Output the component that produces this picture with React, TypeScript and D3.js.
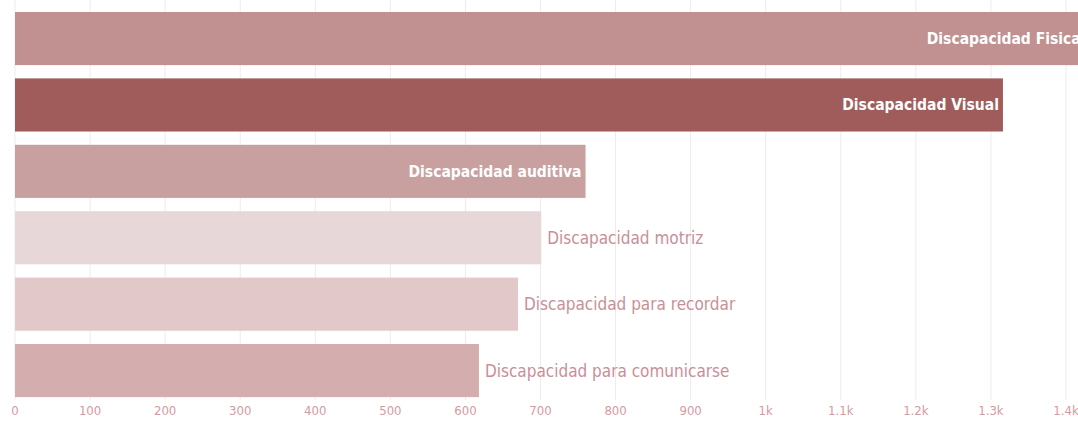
import React from "react";
import * as d3 from "d3";

const categories = [
  "Discapacidad Fisica",
  "Discapacidad Visual",
  "Discapacidad auditiva",
  "Discapacidad motriz",
  "Discapacidad para recordar",
  "Discapacidad para comunicarse",
];
const values = [1425, 1316, 760, 701, 670, 618];
const barColors = ["#c09190", "#a05c5b", "#c9a0a0", "#e8d7d8", "#e2c8c9", "#d4aeae"];
const labelInside = [true, true, true, false, false, false];
const tickValues = [0, 100, 200, 300, 400, 500, 600, 700, 800, 900, 1000, 1100, 1200, 1300, 1400];
const tickLabels = ["0", "100", "200", "300", "400", "500", "600", "700", "800", "900", "1k", "1.1k", "1.2k", "1.3k", "1.4k"];

const W = 1078;
const H = 421;
const FONT = "'DejaVu Sans Condensed', 'DejaVu Sans', sans-serif";

export default function App() {
  const x = d3.scaleLinear().domain([0, 1400]).range([15, 1066]);
  const y = d3.scaleBand<string>().domain(categories).range([5.36, 403.76]).paddingInner(0.2).paddingOuter(0.1);

  return (
    <svg width={W} height={H} style={{ position: "absolute", left: 0, top: 0, background: "#fff" }}>
      {tickValues.map((t, i) => (
        <line key={"g" + i} x1={x(t)} x2={x(t)} y1={0} y2={400} stroke="#ececec" strokeWidth={1} />
      ))}
      <g>
        {categories.map((c, i) => {
          const y0 = y(c)!;
          const bw = y.bandwidth();
          const xe = x(values[i]);
          return (
            <g key={c}>
              <rect x={x(0)} y={y0} width={xe - x(0)} height={bw} fill={barColors[i]} />
              {labelInside[i] ? (
                <text x={xe - 4} y={y0 + bw / 2} dy="0.35em" textAnchor="end" fill="#ffffff" fontWeight="bold" fontSize={15.5} fontFamily={FONT} style={{ fontStretch: "condensed" }}>
                  {c}
                </text>
              ) : (
                <text x={xe + 6} y={y0 + bw / 2} dy="0.35em" textAnchor="start" fill="#c98f98" fontSize={17} fontFamily={FONT} style={{ fontStretch: "condensed" }}>
                  {c}
                </text>
              )}
            </g>
          );
        })}
      </g>
      {tickValues.map((t, i) => (
        <text key={"t" + i} x={x(t)} y={415} textAnchor="middle" fill="#d39aa3" fontSize={13} fontFamily={FONT} style={{ fontStretch: "condensed" }}>
          {tickLabels[i]}
        </text>
      ))}
    </svg>
  );
}
